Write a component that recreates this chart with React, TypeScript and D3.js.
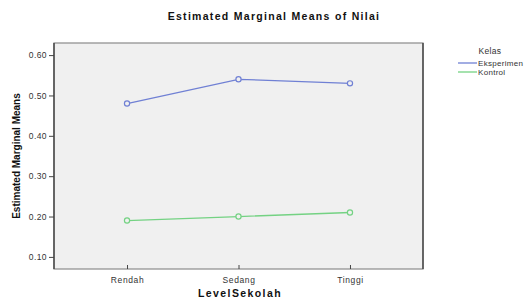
import React, { useEffect, useRef } from "react";
import * as d3 from "d3";

const categories = ["Rendah", "Sedang", "Tinggi"];
const eksperimen = [0.48, 0.54, 0.53];
const kontrol = [0.19, 0.2, 0.21];
const yTicks = [0.1, 0.2, 0.3, 0.4, 0.5, 0.6];
const seriesNames = ["Eksperimen", "Kontrol"];

const App = () => {
  const ref = useRef<SVGSVGElement>(null);

  useEffect(() => {
    const width = 530;
    const height = 302;
    const left = 54,
      right = 423,
      top = 43,
      bottom = 269;
    const svg = d3.select(ref.current);
    svg.selectAll("*").remove();

    const colors = ["#7080d4", "#74d283"];
    const font = "'Liberation Sans', Arial, sans-serif";

    const x = d3.scalePoint<string>().domain(categories).range([left, right]).padding(0.655);
    const y = d3.scaleLinear().domain([0.07, 0.63]).range([bottom, top]);

    // title
    svg
      .append("text")
      .attr("x", 274)
      .attr("y", 20)
      .attr("text-anchor", "middle")
      .attr("font-family", font)
      .attr("font-weight", "bold")
      .attr("font-size", 10.5)
      .attr("letter-spacing", 1.3)
      .attr("fill", "#111")
      .text("Estimated Marginal Means of Nilai");

    // plot area
    svg
      .append("rect")
      .attr("x", left)
      .attr("y", top)
      .attr("width", right - left)
      .attr("height", bottom - top)
      .attr("fill", "#f0f0f0")
      .attr("stroke", "#8a8a8a")
      .attr("stroke-width", 1.2);
    // darker side borders
    [left, right].forEach((bx) => {
      svg
        .append("line")
        .attr("x1", bx)
        .attr("x2", bx)
        .attr("y1", top)
        .attr("y2", bottom)
        .attr("stroke", "#444")
        .attr("stroke-width", 1.4);
    });

    // y axis
    const yAxis = svg
      .append("g")
      .attr("transform", `translate(${left},0)`)
      .call(
        d3
          .axisLeft(y)
          .tickValues(yTicks)
          .tickSize(5)
          .tickFormat((d) => d3.format(".2f")(d as number))
      );
    yAxis.select(".domain").remove();
    yAxis.selectAll("line").attr("stroke", "#444");
    yAxis
      .selectAll("text")
      .attr("font-family", font)
      .attr("font-size", 8.5)
      .attr("letter-spacing", 0.4)
      .attr("fill", "#333")
      .attr("dx", 1);

    // x axis
    const xAxis = svg
      .append("g")
      .attr("transform", `translate(0,${bottom})`)
      .call(d3.axisBottom(x).tickSize(-4).tickPadding(6));
    xAxis.select(".domain").remove();
    xAxis.selectAll("line").attr("stroke", "#444");
    xAxis
      .selectAll("text")
      .attr("font-family", font)
      .attr("font-size", 8.5)
      .attr("letter-spacing", 0.6)
      .attr("fill", "#333")
      .attr("dy", "0.9em");

    // axis titles
    svg
      .append("text")
      .attr("transform", `translate(20,${(top + bottom) / 2}) rotate(-90)`)
      .attr("text-anchor", "middle")
      .attr("font-family", "'Liberation Sans Narrow', 'Liberation Sans', Arial, sans-serif")
      .attr("font-stretch", "condensed")
      .attr("font-weight", "bold")
      .attr("font-size", 10)
      .attr("fill", "#111")
      .text("Estimated Marginal Means");

    svg
      .append("text")
      .attr("x", 240)
      .attr("y", 297)
      .attr("text-anchor", "middle")
      .attr("font-family", font)
      .attr("font-weight", "bold")
      .attr("font-size", 10.5)
      .attr("letter-spacing", 1.4)
      .attr("fill", "#111")
      .text("LevelSekolah");

    // lines and markers
    const line = d3
      .line<number>()
      .x((d, i) => x(categories[i]) as number)
      .y((d) => y(d));

    [eksperimen, kontrol].forEach((vals, si) => {
      svg
        .append("path")
        .datum(vals)
        .attr("d", line)
        .attr("fill", "none")
        .attr("stroke", colors[si])
        .attr("stroke-width", 1.3);
      svg
        .selectAll(`circle.s${si}`)
        .data(vals)
        .enter()
        .append("circle")
        .attr("class", `s${si}`)
        .attr("cx", (d, i) => x(categories[i]) as number)
        .attr("cy", (d) => y(d))
        .attr("r", 2.6)
        .attr("fill", "#f0f0f0")
        .attr("stroke", colors[si])
        .attr("stroke-width", 1.2);
    });

    // legend
    svg
      .append("text")
      .attr("x", 490)
      .attr("y", 54)
      .attr("text-anchor", "middle")
      .attr("font-family", font)
      .attr("font-size", 8.5)
      .attr("letter-spacing", 0.3)
      .attr("fill", "#333")
      .text("Kelas");

    seriesNames.forEach((name, i) => {
      const ly = 63 + i * 9;
      svg
        .append("line")
        .attr("x1", 458)
        .attr("x2", 477)
        .attr("y1", ly)
        .attr("y2", ly)
        .attr("stroke", colors[i])
        .attr("stroke-width", 1.3);
      svg
        .append("text")
        .attr("x", 478)
        .attr("y", ly + 3)
        .attr("font-family", font)
        .attr("font-size", 8)
        .attr("letter-spacing", 0.3)
        .attr("fill", "#333")
        .text(name);
    });

    svg.attr("width", width).attr("height", height);
  }, []);

  return (
    <svg
      ref={ref}
      width={530}
      height={302}
      style={{ position: "absolute", left: 0, top: 0, background: "#fff" }}
    />
  );
};

export default App;
